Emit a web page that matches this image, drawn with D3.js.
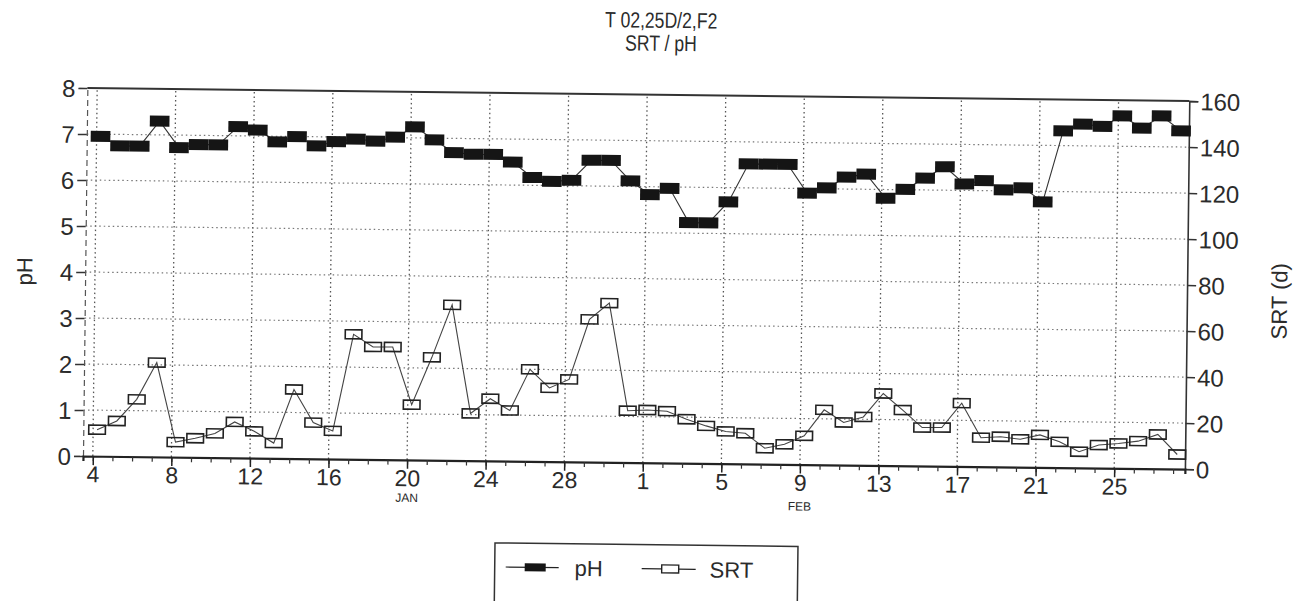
<!DOCTYPE html>
<html>
<head>
<meta charset="utf-8">
<script src="https://cdn.jsdelivr.net/npm/d3@7"></script>
<style>
  body { margin: 0; background: #fff; }
  text { font-family: 'Liberation Sans', Arial, sans-serif; fill: #2b2b2b; }
</style>
</head>
<body>
<svg id="chart" width="1298" height="601"></svg>
<script>
// day numbers counted from 1 Jan (32 = 1 Feb)
var days = [4, 5, 6, 7, 8, 9, 10, 11, 12, 13, 14, 15, 16, 17, 18, 19, 20, 21, 22, 23,
            24, 25, 26, 27, 28, 29, 30, 31, 32, 33, 34, 35, 36, 37, 38, 39, 40, 41, 42, 43,
            44, 45, 46, 47, 48, 49, 50, 51, 52, 53, 54, 55, 56, 57, 58, 59];

var phValues = [6.95, 6.75, 6.75, 7.30, 6.73, 6.80, 6.80, 7.20, 7.13, 6.88,
                7.00, 6.80, 6.90, 6.96, 6.92, 7.01, 7.24, 6.96, 6.69, 6.66,
                6.66, 6.50, 6.17, 6.09, 6.12, 6.56, 6.56, 6.12, 5.83, 5.97,
                5.23, 5.23, 5.69, 6.52, 6.52, 6.52, 5.90, 6.02, 6.26, 6.33,
                5.81, 6.01, 6.26, 6.51, 6.14, 6.22, 6.02, 6.07, 5.77, 7.32,
                7.47, 7.43, 7.66, 7.40, 7.67, 7.35];

var srtValues = [11.5, 15.4, 24.9, 41.0, 6.5, 8.3, 10.5, 15.6, 11.6, 6.6,
                 30.0, 15.7, 12.2, 54.3, 48.9, 49.0, 24.0, 44.7, 67.6, 20.5,
                 27.0, 22.0, 40.0, 32.0, 35.8, 62.0, 69.2, 22.5, 22.9, 22.5,
                 19.1, 16.3, 14.0, 13.3, 6.9, 8.7, 12.5, 23.9, 18.5, 21.0,
                 31.3, 24.2, 16.7, 16.8, 27.5, 12.6, 13.1, 12.1, 14.1, 11.2,
                 7.0, 10.0, 10.8, 11.9, 14.9, 6.3];

var tickDays = [4, 8, 12, 16, 20, 24, 28, 32, 36, 40, 44, 48, 52, 56];
var tickLabels = ['4', '8', '12', '16', '20', '24', '28', '1', '5', '9', '13', '17', '21', '25'];
var monthDays = [20, 40];
var monthNames = ['JAN', 'FEB'];
var phTicks = [0, 1, 2, 3, 4, 5, 6, 7, 8];
var srtTicks = [0, 20, 40, 60, 80, 100, 120, 140, 160];

var plotLeft = 83, plotRight = 1185, plotTop = 88, plotBottom = 456;

var svg = d3.select('#chart');
// the scanned page sits slightly askew
var g = svg.append('g')
    .attr('transform', 'rotate(0.68,' + plotLeft + ',' + plotBottom + ')');

var x = d3.scaleLinear().domain([3.5, 59.6]).range([plotLeft, plotRight]);
var yPh = d3.scaleLinear().domain([0, 8]).range([plotBottom, plotTop]);
var ySrt = d3.scaleLinear().domain([0, 160]).range([plotBottom, plotTop]);
var dayW = x(1) - x(0);
var shift = dayW * 0.2;

var rows = days.map(function(d, i) {
  return { day: d, ph: phValues[i], srt: srtValues[i] };
});

// titles (condensed lettering)
var titles = g.append('g').attr('transform', 'translate(656,0) scale(0.8,1)');
titles.append('text')
    .attr('x', 0).attr('y', 21)
    .attr('font-size', 22).attr('text-anchor', 'middle')
    .text('T 02,25D/2,F2');
titles.append('text')
    .attr('x', 0).attr('y', 44)
    .attr('font-size', 22).attr('text-anchor', 'middle')
    .text('SRT / pH');

// grid
g.append('g').selectAll('line')
    .data(tickDays)
  .enter().append('line')
    .attr('x1', d => x(d)).attr('x2', d => x(d))
    .attr('y1', plotBottom).attr('y2', plotTop)
    .attr('stroke', '#555').attr('stroke-width', 1.3)
    .attr('stroke-dasharray', '1.5,3');

g.append('g').selectAll('line')
    .data(phTicks.slice(1, 8))
  .enter().append('line')
    .attr('x1', plotLeft).attr('x2', plotRight)
    .attr('y1', d => yPh(d)).attr('y2', d => yPh(d))
    .attr('stroke', '#777').attr('stroke-width', 1.2)
    .attr('stroke-dasharray', '1.5,3');

// frame top
g.append('line')
    .attr('x1', plotLeft).attr('x2', plotRight)
    .attr('y1', yPh(8)).attr('y2', yPh(8))
    .attr('stroke', '#333').attr('stroke-width', 2);

// left axis
var leftAxis = g.append('g')
    .attr('transform', 'translate(' + plotLeft + ',0)')
    .call(d3.axisLeft(yPh).tickValues(phTicks).tickSize(9).tickPadding(3));
leftAxis.select('.domain').attr('stroke', '#555').attr('stroke-width', 1.2)
    .attr('stroke-dasharray', '6,4');
leftAxis.selectAll('.tick line').attr('stroke', '#333').attr('stroke-width', 1.5);
leftAxis.selectAll('.tick text').attr('font-size', 24).attr('dy', '0.36em')
    .attr('fill', '#2b2b2b');

// right axis
var rightAxis = g.append('g')
    .attr('transform', 'translate(' + plotRight + ',0)')
    .call(d3.axisRight(ySrt).tickValues(srtTicks).tickSize(9).tickPadding(2));
rightAxis.select('.domain').attr('stroke', '#333').attr('stroke-width', 1.6);
rightAxis.selectAll('.tick line').attr('stroke', '#333').attr('stroke-width', 1.5);
rightAxis.selectAll('.tick text').attr('font-size', 24).attr('dy', '0.36em')
    .attr('fill', '#2b2b2b');

// bottom axis: daily minor ticks, labelled every 4 days
var minorAxis = g.append('g')
    .attr('transform', 'translate(0,' + plotBottom + ')')
    .call(d3.axisBottom(x).tickValues(days).tickSize(5).tickFormat(''));
minorAxis.select('.domain').attr('stroke', '#222').attr('stroke-width', 2.2);
minorAxis.selectAll('.tick line').attr('stroke', '#333').attr('stroke-width', 1.2);

var majorAxis = g.append('g')
    .attr('transform', 'translate(0,' + plotBottom + ')')
    .call(d3.axisBottom(x).tickValues(tickDays).tickSize(9).tickPadding(1)
      .tickFormat(function(d, i) { return tickLabels[i]; }));
majorAxis.select('.domain').remove();
majorAxis.selectAll('.tick line').attr('stroke', '#222').attr('stroke-width', 1.5);
majorAxis.selectAll('.tick text').attr('font-size', 23).attr('fill', '#2b2b2b');

g.append('g').selectAll('text')
    .data(monthDays)
  .enter().append('text')
    .attr('x', d => x(d)).attr('y', (d, i) => i === 0 ? 498 : 502)
    .attr('font-size', 12).attr('text-anchor', 'middle')
    .text((d, i) => monthNames[i]);

// axis titles
g.append('text')
    .attr('transform', 'translate(30,272) rotate(-90)')
    .attr('font-size', 22).attr('text-anchor', 'middle')
    .text('pH');
g.append('text')
    .attr('transform', 'translate(1285,287) rotate(-90)')
    .attr('font-size', 22).attr('text-anchor', 'middle')
    .text('SRT (d)');

// series
var phLine = d3.line().x(d => x(d.day) + shift).y(d => yPh(d.ph));
var srtLine = d3.line().x(d => x(d.day) + shift).y(d => ySrt(d.srt));

g.append('path').datum(rows)
    .attr('d', srtLine)
    .attr('fill', 'none').attr('stroke', '#444').attr('stroke-width', 1.1);

g.append('g').selectAll('rect')
    .data(rows)
  .enter().append('rect')
    .attr('x', d => x(d.day) + shift - dayW / 2 + 1.5)
    .attr('y', d => ySrt(d.srt) - 4.5)
    .attr('width', dayW - 3).attr('height', 9)
    .attr('fill', 'none').attr('stroke', '#222').attr('stroke-width', 1.6);

g.append('path').datum(rows)
    .attr('d', phLine)
    .attr('fill', 'none').attr('stroke', '#333').attr('stroke-width', 1.1);

g.append('g').selectAll('rect')
    .data(rows)
  .enter().append('rect')
    .attr('x', d => x(d.day) + shift - dayW / 2)
    .attr('y', d => yPh(d.ph) - 5.5)
    .attr('width', dayW).attr('height', 11)
    .attr('fill', '#151515');

// legend
var legend = g.append('g').attr('transform', 'translate(496,538)');
legend.append('rect')
    .attr('width', 303).attr('height', 80)
    .attr('fill', '#fff').attr('stroke', '#333').attr('stroke-width', 1.5);
legend.append('line').attr('x1', 11).attr('x2', 64).attr('y1', 24).attr('y2', 24)
    .attr('stroke', '#222').attr('stroke-width', 1.2);
legend.append('rect').attr('x', 30).attr('y', 20).attr('width', 21).attr('height', 8)
    .attr('fill', '#151515');
legend.append('text').attr('x', 80).attr('y', 32).attr('font-size', 22).text('pH');
legend.append('line').attr('x1', 147).attr('x2', 201).attr('y1', 24).attr('y2', 24)
    .attr('stroke', '#222').attr('stroke-width', 1.2);
legend.append('rect').attr('x', 167).attr('y', 20).attr('width', 17).attr('height', 8)
    .attr('fill', '#fff').attr('stroke', '#222').attr('stroke-width', 1.4);
legend.append('text').attr('x', 215).attr('y', 32).attr('font-size', 22).text('SRT');
</script>
</body>
</html>
